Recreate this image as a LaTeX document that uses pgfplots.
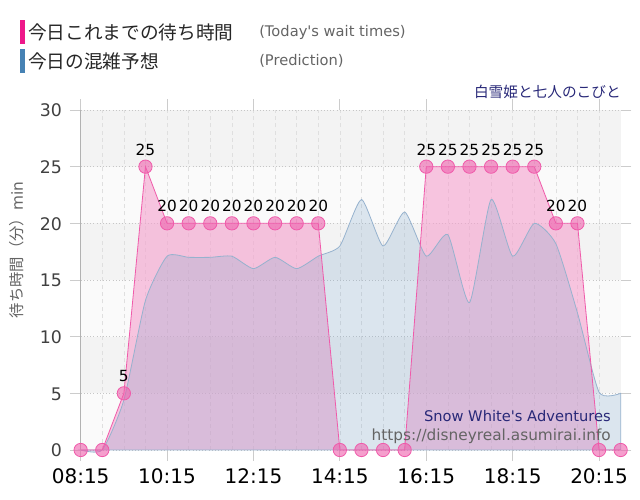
\documentclass[border=0pt]{standalone}
\usepackage{pgfplots}
\pgfplotsset{compat=1.18}
\usepackage{pgfplotstable}
\usepackage{fontspec}
\setmainfont{DejaVu Sans}
\newfontfamily\jp{Noto Sans CJK JP}

\definecolor{bandA}{RGB}{243,243,243}
\definecolor{bandB}{RGB}{250,250,250}
\definecolor{pinkline}{RGB}{240,90,170}
\definecolor{pinkfill}{RGB}{245,160,205}
\definecolor{pinkmark}{RGB}{238,95,172}
\definecolor{bluefill}{RGB}{128,168,204}
\definecolor{blueline}{RGB}{150,178,206}
\definecolor{legpink}{RGB}{238,24,138}
\definecolor{legblue}{RGB}{70,130,180}
\definecolor{navytxt}{RGB}{40,40,120}
\definecolor{graytxt}{RGB}{100,100,100}

% today's wait times, every 30 min from 08:15
\pgfplotstableread{
t w
8.25 0
8.75 0
9.25 5
9.75 25
10.25 20
10.75 20
11.25 20
11.75 20
12.25 20
12.75 20
13.25 20
13.75 20
14.25 0
14.75 0
15.25 0
15.75 0
16.25 25
16.75 25
17.25 25
17.75 25
18.25 25
18.75 25
19.25 20
19.75 20
20.25 0
20.75 0
}\waitdata

% prediction
\pgfplotstableread{
t p
8.25 0
8.75 0
9.25 4.4
9.75 13.2
10.25 17.1
10.75 17.0
11.25 17.0
11.75 17.1
12.25 16.0
12.75 17.0
13.25 16.0
13.75 17.1
14.25 18.0
14.75 22.1
15.25 18.0
15.75 21.0
16.25 17.1
16.75 19.0
17.25 13.0
17.75 22.1
18.25 17.1
18.75 20.0
19.25 18.2
19.75 12.1
20.25 5.1
20.75 5.0
}\preddata

\begin{document}
\begin{tikzpicture}[x=0.75pt,y=0.75pt]
\path (0,0) rectangle (640,500);

% legend at the top
\fill[legpink] (20,456) rectangle (25,480);
\fill[legblue] (20,427) rectangle (25,451);
\node[anchor=west, inner sep=0pt, text=black!85, font=\jp\fontsize{14}{16}\selectfont] at (28,468) {今日これまでの待ち時間};
\node[anchor=west, inner sep=0pt, text=graytxt, font=\fontsize{11}{13}\selectfont] at (259,468) {(Today\textquotesingle s wait times)};
\node[anchor=west, inner sep=0pt, text=black!85, font=\jp\fontsize{14}{16}\selectfont] at (28,439) {今日の混雑予想};
\node[anchor=west, inner sep=0pt, text=graytxt, font=\fontsize{11}{13}\selectfont] at (259,439) {(Prediction)};
\node[anchor=east, inner sep=0pt, text=navytxt, font=\jp\fontsize{11}{13}\selectfont] at (621,408) {白雪姫と七人のこびと};

% y label
\node[rotate=90, inner sep=0pt, text=graytxt, font=\fontsize{11.5}{13}\selectfont] at (17,250) {{\jp 待ち時間（分）}min};

\begin{axis}[
    at={(60.5pt,37.5pt)}, anchor=south west,
    scale only axis, width=405pt, height=255pt,
    set layers, clip=false,
    xmin=8.25, xmax=20.75, ymin=0, ymax=30,
    xtick={8.25,10.25,12.25,14.25,16.25,18.25,20.25},
    xticklabels={08:15,10:15,12:15,14:15,16:15,18:15,20:15},
    minor x tick num=3,
    ytick={0,5,...,30},
    /pgf/number format/assume math mode=true,
    typeset ticklabels with strut,
    tick align=outside, major tick length=8pt, minor tick length=0pt,
    tick style={gray!40, line width=0.6pt},
    axis line style={draw=none},
    xmajorgrids, xminorgrids, ymajorgrids,
    x grid style={gray!25, dash pattern=on 3pt off 2.5pt, line width=0.5pt},
    y grid style={gray!45, dotted, line width=0.6pt},
    xticklabel style={font=\fontsize{15}{17}\selectfont, text=black, yshift=-1.5pt},
    yticklabel style={font=\fontsize{13}{15}\selectfont, text=black!75, xshift=-2.5pt, yshift=-2.2pt},
]
\begin{pgfonlayer}{axis background}
\fill[bandB] (axis cs:8.25,0) rectangle (axis cs:20.75,30);
\fill[bandA] (axis cs:8.25,25) rectangle (axis cs:20.75,30);
\fill[bandA] (axis cs:8.25,15) rectangle (axis cs:20.75,20);
\fill[bandA] (axis cs:8.25,5) rectangle (axis cs:20.75,10);
\end{pgfonlayer}

\addplot[draw=none, fill=pinkfill, fill opacity=0.6] table[x=t, y=w] {\waitdata} \closedcycle;
\addplot[smooth, tension=0.35, draw=blueline, line width=0.6pt, fill=bluefill, fill opacity=0.25] table[x=t, y=p] {\preddata} \closedcycle;
\addplot[pinkline, line width=0.6pt, mark=*, mark size=5pt,
    mark options={draw=none, fill=pinkmark, fill opacity=0.6}] table[x=t, y=w] {\waitdata};
\addplot[draw=none, mark=none, restrict y to domain=1:30,
    nodes near coords,
    every node near coord/.append style={anchor=base, inner sep=0pt, yshift=8.7pt,
      font=\fontsize{11.5}{13}\selectfont, text=black}] table[x=t, y=w] {\waitdata};

\draw[gray!60, line width=0.6pt] (rel axis cs:0,0) -- (rel axis cs:0,1);
\end{axis}

% watermark
\node[anchor=east, inner sep=0pt, text=navytxt, font=\fontsize{11}{13}\selectfont] at (611,84) {Snow White\textquotesingle s Adventures};
\node[anchor=east, inner sep=0pt, text=graytxt, font=\fontsize{11.5}{13}\selectfont] at (611,64) {https://disneyreal.asumirai.info};
\end{tikzpicture}
\end{document}
